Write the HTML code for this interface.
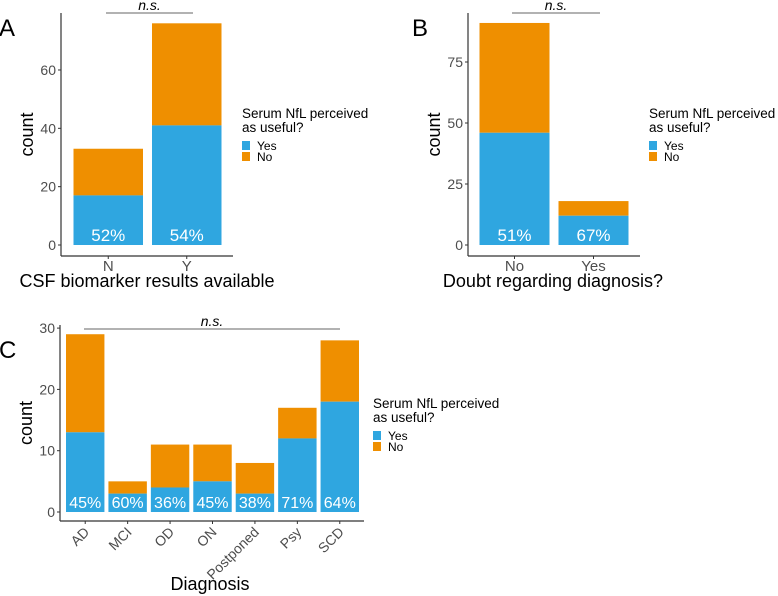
<!DOCTYPE html>
<html><head><meta charset="utf-8">
<style>
body{margin:0;background:#fff;}
svg{display:block;font-family:"Liberation Sans",Arial,sans-serif;}
</style></head>
<body>
<svg id="chart" width="778" height="596" viewBox="0 0 778 596"></svg>
<script>
// Panel A data
const catsA = ["N","Y"];
const yesA = [17,41];
const totalA = [33,76];
const pctA = ["52%","54%"];
const ticksA = [0,20,40,60];
// Panel B data
const catsB = ["No","Yes"];
const yesB = [46,12];
const totalB = [91,18];
const pctB = ["51%","67%"];
const ticksB = [0,25,50,75];
// Panel C data
const catsC = ["AD","MCI","OD","ON","Postponed","Psy","SCD"];
const yesC = [13,3,4,5,3,12,18];
const totalC = [29,5,11,11,8,17,28];
const pctC = ["45%","60%","36%","45%","38%","71%","64%"];
const ticksC = [0,10,20,30];

const NS="http://www.w3.org/2000/svg";
const svg=document.getElementById('chart');
function el(tag,attrs,parent,text){
  const e=document.createElementNS(NS,tag);
  for(const k in attrs)e.setAttribute(k,attrs[k]);
  if(text!==undefined)e.textContent=text;
  (parent||svg).appendChild(e);return e;
}
const BLUE="#2fa6e0", ORANGE="#ef8f00";

function panel(o){
  const g=el('g',{});
  
  
  const y=v=>o.y0-v*o.ppu;
  const n=o.cats.length;
  const step=(o.x1-o.x0)/n;
  o.cats.forEach((c,i)=>{
    const bx=o.x0+i*step+o.gap/2, bw=step-o.gap;
    const r1=el('rect',{x:bx,y:y(o.total[i]),width:bw,height:(o.total[i]-o.yes[i])*o.ppu,fill:ORANGE},g);
    
    
    const r2=el('rect',{x:bx,y:y(o.yes[i]),width:bw,height:o.yes[i]*o.ppu,fill:BLUE},g);
    
    
    const t=el('text',{x:bx+bw/2,y:o.y0-4,fill:'#fff','font-size':o.pfs,'text-anchor':'middle'},g,o.pct[i]);
    
    
    const cx=bx+bw/2;
    el('line',{x1:cx,x2:cx,y1:o.axY,y2:o.axY+3,stroke:'#333','stroke-width':1},g);
    let lt;
    if(o.rot){
      lt=el('text',{x:cx+5,y:o.axY+12,fill:'#4d4d4d','font-size':14,'text-anchor':'end',transform:`rotate(-45 ${cx+5} ${o.axY+12})`},g,c);
    }else{
      lt=el('text',{x:cx,y:o.axY+15,fill:'#4d4d4d','font-size':15,'text-anchor':'middle'},g,c);
    }
    
    
  });
  el('line',{x1:o.axX,x2:o.axX,y1:o.axTop,y2:o.axY,stroke:'#333','stroke-width':1.2},g);
  el('line',{x1:o.axX,x2:o.axR,y1:o.axY,y2:o.axY,stroke:'#333','stroke-width':1.2},g);
  o.ticks.forEach(v=>{
    el('line',{x1:o.axX-3,x2:o.axX,y1:y(v),y2:y(v),stroke:'#333'},g);
    const t=el('text',{x:o.axX-5,y:y(v)+5,fill:'#4d4d4d','font-size':14,'text-anchor':'end'},g,String(v));
    
    
  });
  const yt=el('text',{x:o.axX-28,y:(o.axTop+o.axY)/2,fill:'#000','font-size':18,'text-anchor':'middle',transform:`rotate(-90 ${o.axX-28} ${(o.axTop+o.axY)/2})`},g,'count');
  
  
  const xt=el('text',{x:o.xtX,y:o.xtY,fill:'#000','font-size':18,'text-anchor':'middle'},g,o.xtitle);
  
  
  el('line',{x1:o.nsX1,x2:o.nsX2,y1:o.nsY,y2:o.nsY,stroke:'#666','stroke-width':1},g);
  const ns=el('text',{x:(o.nsX1+o.nsX2)/2,y:o.nsY-3,fill:'#000','font-size':14,'font-style':'italic','text-anchor':'middle'},g,'n.s.');
  
  
  const L=el('text',{x:o.lx,y:o.ly,fill:'#000','font-size':24},g,o.id);
  
  
  const lg=el('g',{},g);
  
  
  el('text',{x:o.lgX,y:o.lgY,'font-size':13.5,fill:'#000'},lg,'Serum NfL perceived');
  el('text',{x:o.lgX,y:o.lgY+14,'font-size':13.5,fill:'#000'},lg,'as useful?');
  el('rect',{x:o.lgX,y:o.lgY+23,width:8,height:9,fill:BLUE},lg);
  el('rect',{x:o.lgX,y:o.lgY+34,width:8,height:9,fill:ORANGE},lg);
  el('text',{x:o.lgX+15,y:o.lgY+32,'font-size':12,fill:'#000'},lg,'Yes');
  el('text',{x:o.lgX+15,y:o.lgY+43,'font-size':12,fill:'#000'},lg,'No');
}

panel({id:'A',cats:catsA,yes:yesA,total:totalA,pct:pctA,ticks:ticksA,
  x0:69,x1:226,gap:9,y0:245,ppu:2.917,pfs:17,axX:61,axTop:13,axY:256,axR:233,
  xtitle:'CSF biomarker results available',xtX:147,xtY:287,nsX1:106,nsX2:193,nsY:13,
  lx:-1,ly:36,lgX:242,lgY:118});
panel({id:'B',cats:catsB,yes:yesB,total:totalB,pct:pctB,ticks:ticksB,
  x0:475,x1:633,gap:9,y0:245,ppu:2.44,pfs:17,axX:468,axTop:13,axY:256,axR:640,
  xtitle:'Doubt regarding diagnosis?',xtX:553,xtY:287,nsX1:512,nsX2:600,nsY:13,
  lx:412,ly:36,lgX:649,lgY:118});
panel({id:'C',cats:catsC,yes:yesC,total:totalC,pct:pctC,ticks:ticksC,
  x0:64,x1:361,gap:4,y0:512,ppu:6.13,pfs:16,axX:60,axTop:325,axY:521,axR:364,rot:true,
  xtitle:'Diagnosis',xtX:210,xtY:590,nsX1:84,nsX2:340,nsY:329,
  lx:-1,ly:358,lgX:373,lgY:408});
</script>
</body></html>
